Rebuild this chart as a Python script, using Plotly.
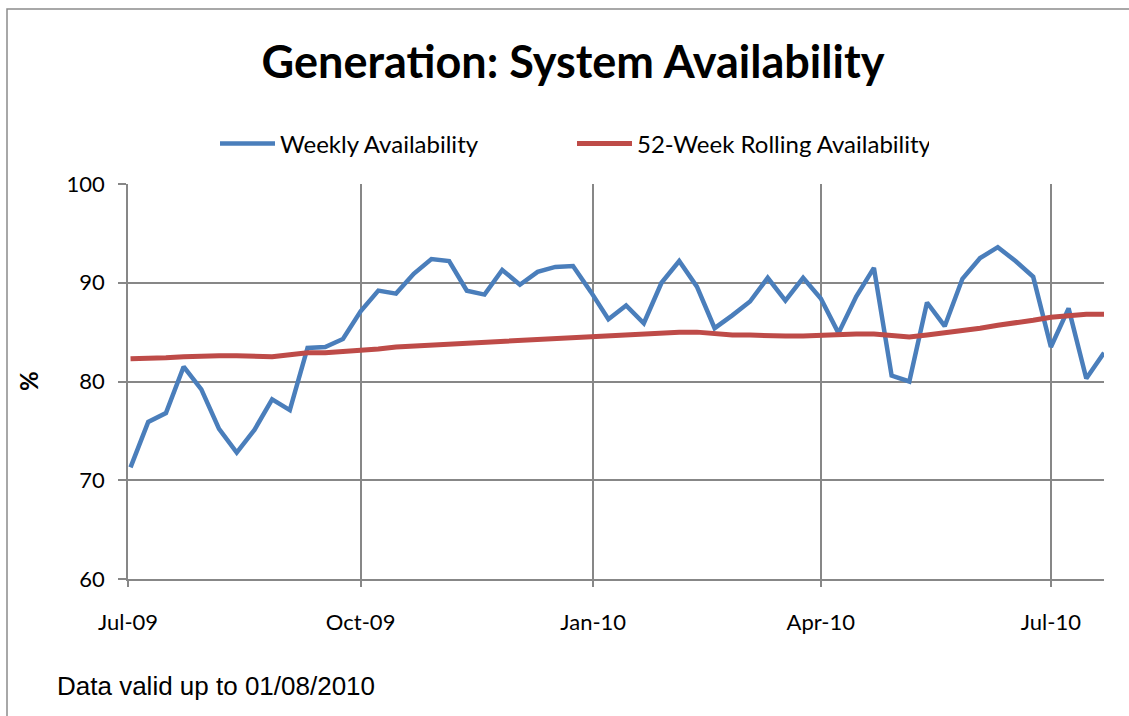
import plotly.graph_objects as go

dates = [
    "2009-07-02", "2009-07-09", "2009-07-16", "2009-07-23", "2009-07-30",
    "2009-08-06", "2009-08-13", "2009-08-20", "2009-08-27", "2009-09-03",
    "2009-09-10", "2009-09-17", "2009-09-24", "2009-10-01", "2009-10-08",
    "2009-10-15", "2009-10-22", "2009-10-29", "2009-11-05", "2009-11-12",
    "2009-11-19", "2009-11-26", "2009-12-03", "2009-12-10", "2009-12-17",
    "2009-12-24", "2009-12-31", "2010-01-07", "2010-01-14", "2010-01-21",
    "2010-01-28", "2010-02-04", "2010-02-11", "2010-02-18", "2010-02-25",
    "2010-03-04", "2010-03-11", "2010-03-18", "2010-03-25", "2010-04-01",
    "2010-04-08", "2010-04-15", "2010-04-22", "2010-04-29", "2010-05-06",
    "2010-05-13", "2010-05-20", "2010-05-27", "2010-06-03", "2010-06-10",
    "2010-06-17", "2010-06-24", "2010-07-01", "2010-07-08", "2010-07-15",
    "2010-07-22",
]

weekly = [
    71.3, 75.9, 76.8, 81.5, 79.2, 75.2, 72.8, 75.1, 78.2, 77.1,
    83.4, 83.5, 84.3, 87.1, 89.2, 88.9, 90.9, 92.4, 92.2, 89.2,
    88.8, 91.3, 89.8, 91.1, 91.6, 91.7, 89.1, 86.3, 87.7, 85.9,
    90.0, 92.2, 89.6, 85.4, 86.7, 88.1, 90.5, 88.2, 90.5, 88.4,
    84.9, 88.6, 91.5, 80.6, 80.0, 88.0, 85.6, 90.4, 92.5, 93.6,
    92.2, 90.6, 83.5, 87.4, 80.3, 82.9,
]

rolling = [
    82.3, 82.3, 82.4, 82.5, 82.6, 82.6, 82.6, 82.5, 82.5, 82.7,
    82.9, 82.9, 83.0, 83.1, 83.3, 83.5, 83.6, 83.7, 83.8, 83.9,
    83.9, 84.0, 84.1, 84.3, 84.4, 84.5, 84.6, 84.6, 84.7, 84.8,
    84.9, 85.0, 85.0, 84.8, 84.7, 84.7, 84.6, 84.6, 84.6, 84.7,
    84.7, 84.8, 84.8, 84.6, 84.5, 84.7, 84.9, 85.2, 85.4, 85.7,
    85.9, 86.2, 86.5, 86.7, 86.8, 86.8,
]

tick_dates = ["2009-07-01", "2009-10-01", "2010-01-01", "2010-04-01", "2010-07-01"]
tick_labels = ["Jul-09", "Oct-09", "Jan-10", "Apr-10", "Jul-10"]
y_ticks = [60, 70, 80, 90, 100]

BLUE = "#4A7EBB"
RED = "#BE4B48"
GRID = "#878787"
FONT = "Lato, Calibri, Carlito, sans-serif"

fig = go.Figure()
fig.add_trace(go.Scatter(x=dates, y=weekly, mode="lines", name="Weekly Availability",
                         line=dict(color=BLUE, width=4.5)))
fig.add_trace(go.Scatter(x=dates, y=rolling, mode="lines", name="52-Week Rolling Availability",
                         line=dict(color=RED, width=5)))

fig.update_layout(
    width=1129, height=716,
    margin=dict(l=128, r=25, t=184, b=137),
    paper_bgcolor="white", plot_bgcolor="white",
    font=dict(family=FONT, color="black", size=22),
    title=dict(text="<b>Generation: System Availability</b>", x=573 / 1129, xref="container",
               xanchor="center", y=1 - 62 / 716, yanchor="middle", yref="container",
               font=dict(size=45, family=FONT, color="black")),
    showlegend=True,
    legend=dict(orientation="h", x=(215 - 128) / 976, xanchor="left",
                y=1 + (184 - 144) / 395, yanchor="middle",
                font=dict(size=24, family=FONT), entrywidth=287, itemwidth=55,
                bgcolor="rgba(0,0,0,0)"),
    xaxis=dict(type="date", range=["2009-07-01", "2010-07-22"],
               tickvals=tick_dates, ticktext=tick_labels,
               showgrid=True, gridcolor=GRID, gridwidth=1.5,
               showline=True, linecolor=GRID, linewidth=1.5,
               ticks="outside", ticklen=6, tickcolor=GRID, tickwidth=1.5,
               ticklabelstandoff=17, zeroline=False,
               tickfont=dict(size=22, family=FONT)),
    yaxis=dict(range=[60, 100], tickvals=y_ticks,
               showgrid=True, gridcolor=GRID, gridwidth=1.5,
               showline=True, linecolor=GRID, linewidth=1.5,
               ticks="outside", ticklen=8, tickcolor=GRID, tickwidth=1.5,
               ticklabelstandoff=9, zeroline=False,
               tickfont=dict(size=22, family=FONT)),
)

# y-axis title "%"
fig.add_annotation(text="<b>%</b>", xref="paper", yref="paper",
                   x=(28 - 128) / 976, y=(579 - 381) / 395, xanchor="center", yanchor="middle",
                   textangle=-90, showarrow=False, font=dict(size=24, family=FONT))

fig.add_shape(type="rect", xref="paper", yref="paper",
              x0=(7 - 128) / 976, x1=1.1, y0=-0.5, y1=1 + (184 - 9) / 395,
              line=dict(color="#8c8c8c", width=1.5), fillcolor="rgba(0,0,0,0)", layer="below")

fig.add_annotation(text="Data valid up to 01/08/2010", xref="paper", yref="paper",
                   x=(55 - 128) / 976, y=-(686 - 579) / 395, xanchor="left", yanchor="middle",
                   showarrow=False, font=dict(size=26, family="Liberation Sans, Arial, sans-serif"))

fig.write_html("out.html", config={"displayModeBar": False},
               post_script="document.body.style.margin='0px';")
